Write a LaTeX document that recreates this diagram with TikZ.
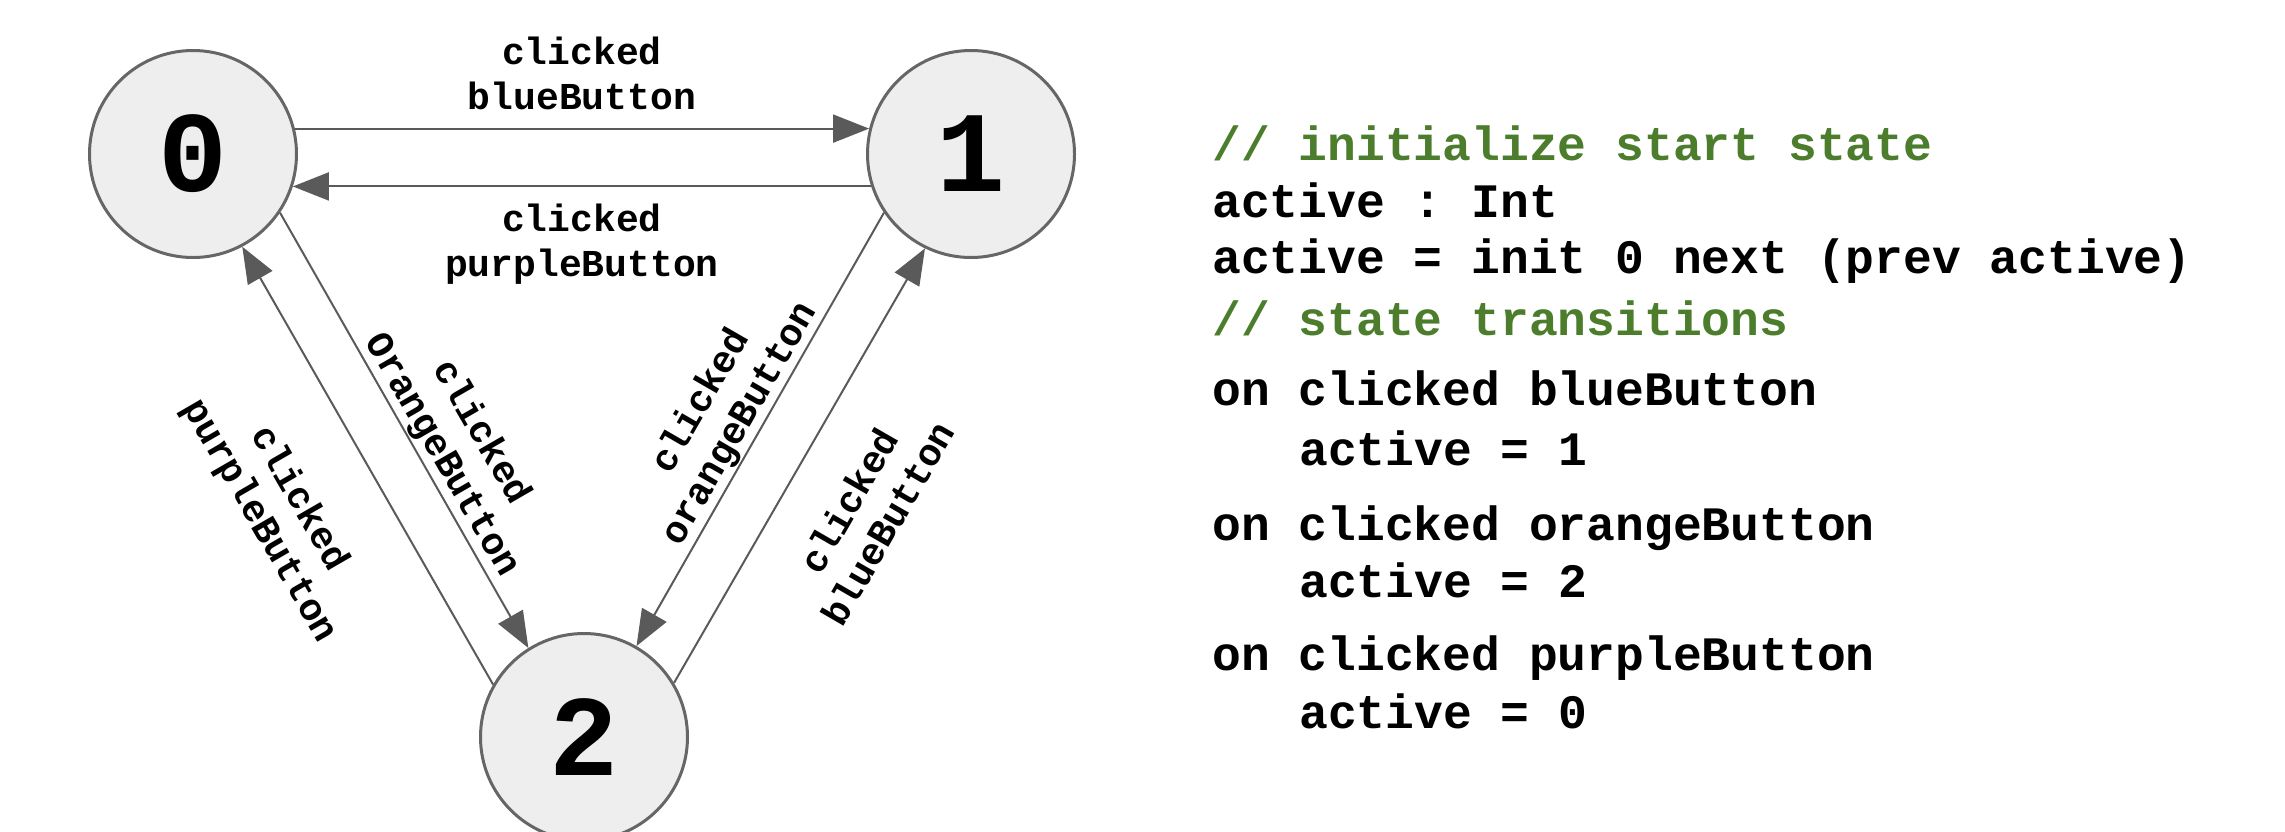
\documentclass[tikz,border=0pt]{standalone}
\usepackage{fontspec}
\setmonofont{Liberation Mono}
\newfontfamily\cmono{Liberation Mono}
\usetikzlibrary{arrows.meta}
\frenchspacing
\definecolor{edgegray}{HTML}{5A5A5A}
\definecolor{nodegray}{HTML}{666666}
\definecolor{nodefill}{HTML}{EEEEEE}
\definecolor{cmtgreen}{HTML}{4C7D2C}
\tikzset{
  state/.style={circle, draw=nodegray, line width=3pt, fill=nodefill, minimum size=207pt, inner sep=0pt,
    font=\cmono\bfseries\fontsize{115}{115}\selectfont},
  trans/.style={draw=edgegray, line width=2pt, -{Triangle[length=36pt,width=28pt]}},
  lbl/.style={align=center, inner sep=0pt, font=\cmono\bfseries\fontsize{38}{45}\selectfont},
  code/.style={anchor=base west, inner sep=0pt, font=\cmono\bfseries\fontsize{48}{58}\selectfont},
  cmt/.style={code, text=cmtgreen}
}
\begin{document}
\begin{tikzpicture}[x=1pt,y=1pt]
\useasboundingbox (0,0) rectangle (2285,-831);
\node[state] (n0) at (193,-154) {0};
\node[state] (n1) at (971,-154) {1};
\node[state] (n2) at (584,-737) {2};

\draw[trans] (n0.14) -- (n1.166);
\draw[trans] (n1.-162) -- (n0.-18);
\draw[trans] (n2.150) -- (n0.-62);
\draw[trans] (n0.-34) -- (n2.122);
\draw[trans] (n1.-146) -- (n2.60);
\draw[trans] (n2.31) -- (n1.-116);

\node[lbl] (l01) at (582,-73) {clicked\\blueButton};
\node[lbl] (l10) at (582,-244) {clicked\\purpleButton};
\node[lbl, rotate=-60] (l20) at (279,-510) {clicked\\purpleButton};
\node[lbl, rotate=-60] (l02) at (461,-444) {clicked\\OrangeButton};
\node[lbl, rotate=60] (l12) at (721,-413) {clicked\\orangeButton};
\node[lbl, rotate=60] (l21) at (868,-512) {clicked\\blueButton};

\node[cmt]  (c1)  at (1212,-160) {// initialize start state};
\node[code] (c2)  at (1212,-217) {active : Int};
\node[code] (c3)  at (1212,-273) {active = init 0 next (prev active)};
\node[cmt]  (c4)  at (1212,-335) {// state transitions};
\node[code] (c5)  at (1212,-405) {on clicked blueButton};
\node[code] (c6)  at (1299,-465) {active = 1};
\node[code] (c7)  at (1212,-540) {on clicked orangeButton};
\node[code] (c8)  at (1299,-597) {active = 2};
\node[code] (c9)  at (1212,-670) {on clicked purpleButton};
\node[code] (c10) at (1299,-728) {active = 0};
\end{tikzpicture}
\end{document}
